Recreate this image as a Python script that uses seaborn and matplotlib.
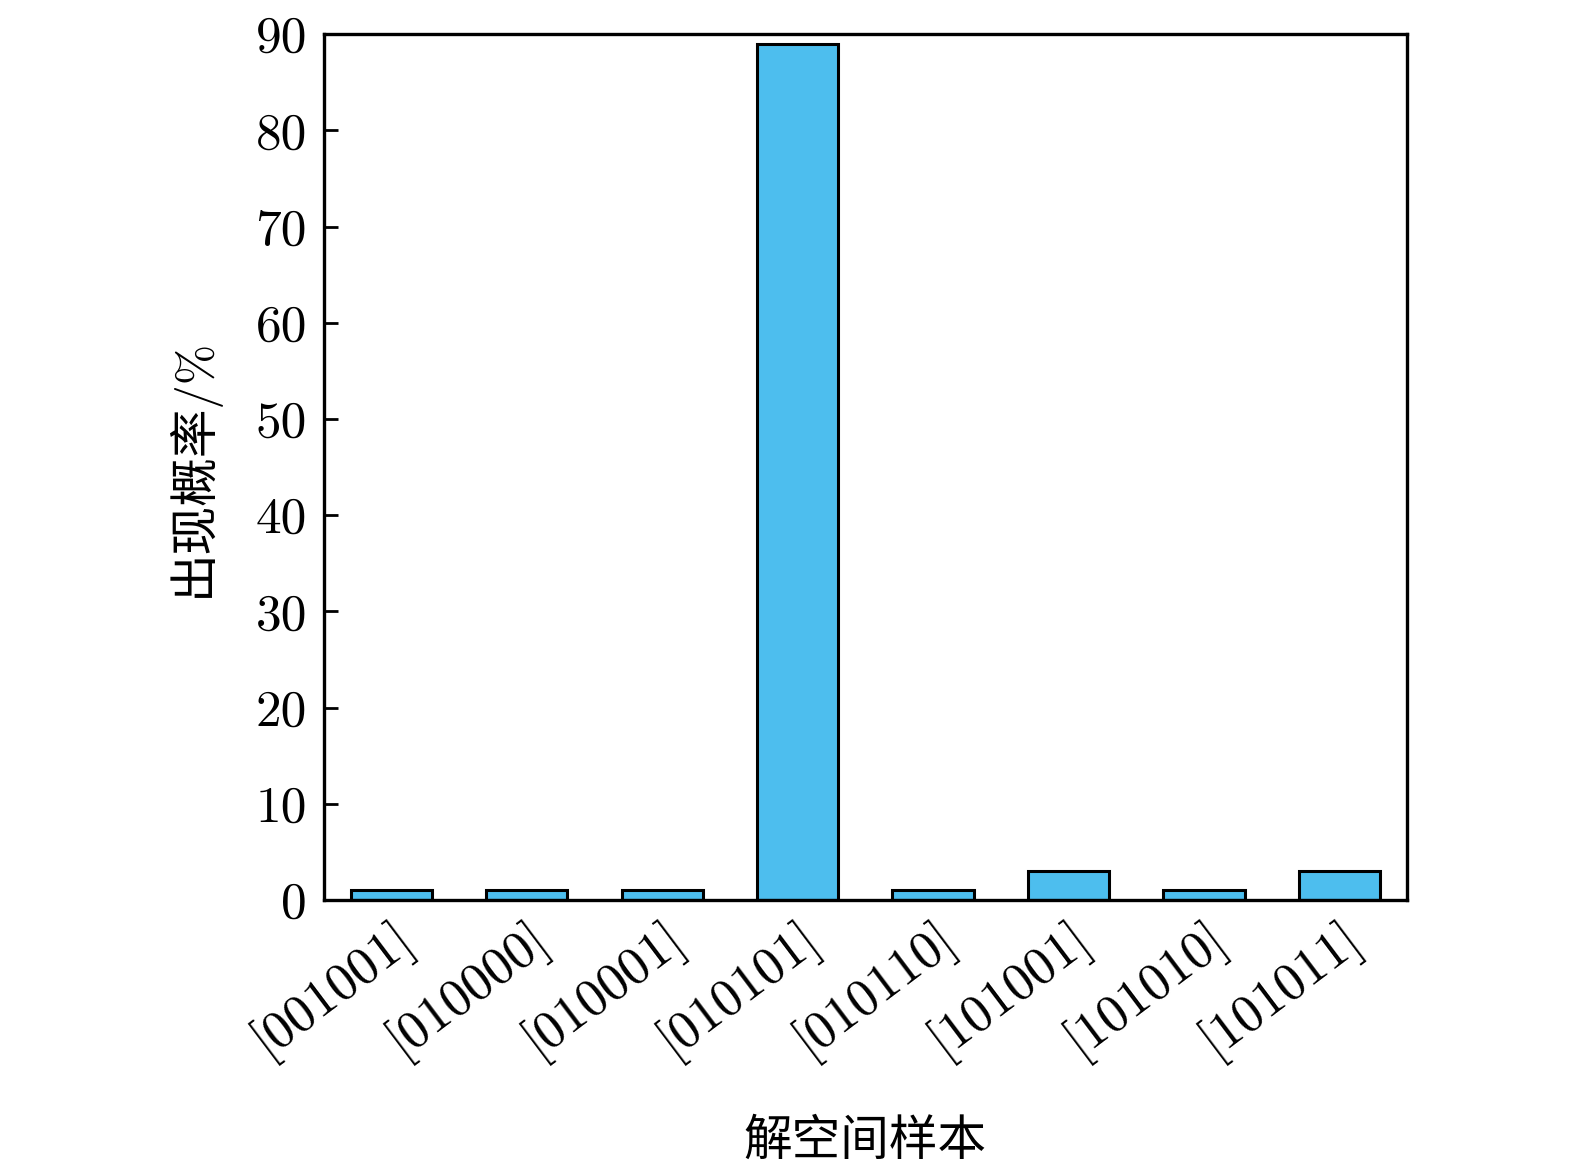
import matplotlib
matplotlib.use("Agg")
import matplotlib.pyplot as plt
import seaborn as sns
import pandas as pd

samples = ['[001001]', '[010000]', '[010001]', '[010101]',
           '[010110]', '[101001]', '[101010]', '[101011]']
probability = [1, 1, 1, 89, 1, 3, 1, 3]
y_ticks = [0, 10, 20, 30, 40, 50, 60, 70, 80, 90]

df = pd.DataFrame({'sample': samples, 'prob': probability})

sns.set_theme(style="white")
plt.rcParams['font.family'] = ['cmr10', 'Noto Sans CJK SC', 'DejaVu Sans']
plt.rcParams['axes.formatter.use_mathtext'] = True
plt.rcParams['text.color'] = 'black'
plt.rcParams['axes.labelcolor'] = 'black'
plt.rcParams['xtick.color'] = 'black'
plt.rcParams['ytick.color'] = 'black'

fig = plt.figure(figsize=(15.75, 11.71), dpi=100)
ax = fig.add_axes([0.2054, 0.2314, 0.6881, 0.7394])

sns.barplot(x='sample', y='prob', data=df, color='#4DBEEE', saturation=1,
            edgecolor='black', linewidth=2.2, width=0.6, ax=ax)

ax.set_xlim(-0.5, 7.5)
ax.set_ylim(0, 90)
ax.set_yticks(y_ticks)
ax.set_yticklabels([str(v) for v in y_ticks], fontsize=37)
ax.set_xticks(range(len(samples)))
ax.set_xticklabels(samples, fontsize=38, rotation=37, ha='right',
                   rotation_mode='anchor')
ax.tick_params(axis='y', direction='in', length=10, width=2, pad=12, left=True)
ax.tick_params(axis='x', length=0, pad=8)
for s in ax.spines.values():
    s.set_linewidth(2.4)
    s.set_color('black')

ax.set_xlabel('解空间样本', fontsize=35, labelpad=38)
ax.set_ylabel('出现概率/%', fontsize=35, labelpad=26)

fig.savefig('out.png', dpi=100)
